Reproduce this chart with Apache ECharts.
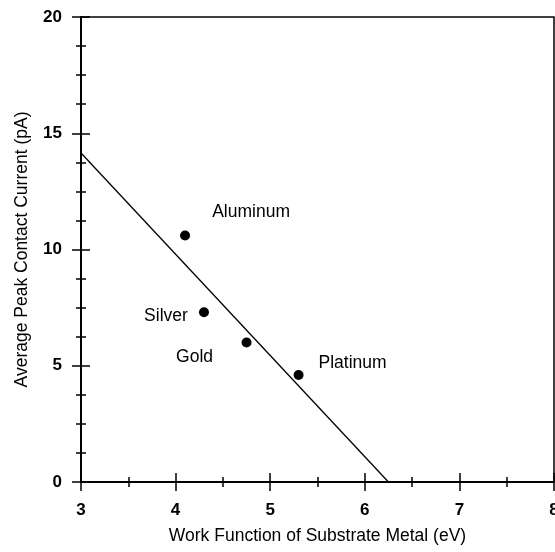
<!DOCTYPE html>
<html>
<head>
<meta charset="utf-8">
<script src="https://cdn.jsdelivr.net/npm/echarts@6/dist/echarts.min.js"></script>
<style>
  html, body { margin: 0; padding: 0; background: #fff; }
  #chart { width: 555px; height: 552px; }
</style>
</head>
<body>
<div id="chart"></div>
<script>
// Measured metals: work function (eV) and average peak contact current (pA)
const metals = ['Aluminum', 'Silver', 'Gold', 'Platinum'];
const workFunction = [4.10, 4.30, 4.75, 5.30];
const peakCurrent = [10.6, 7.3, 6.0, 4.6];

// Linear fit drawn across the range, ending where it reaches zero current
const fitX = [3.0, 6.25];
const fitY = [14.15, 0];

// Axis ranges
const xRange = [3, 8];
const yRange = [0, 20];

// Label placement around each dot (pixels, from the dot centre)
const labelShift = {
  Aluminum: [66, -23],
  Silver: [-38, 4],
  Gold: [-52, 15],
  Platinum: [54, -12]
};

const font = 'Liberation Sans, Arial, Helvetica, sans-serif';
const ink = '#000';

const chart = echarts.init(document.getElementById('chart'), null, { renderer: 'canvas' });

const baseX = {
  type: 'value', min: xRange[0], max: xRange[1], interval: 1,
  splitLine: { show: false }
};
const baseY = {
  type: 'value', min: yRange[0], max: yRange[1], interval: 5,
  splitLine: { show: false }
};

chart.setOption({
  animation: false,
  backgroundColor: '#fff',
  grid: {
    left: 81, right: 1, top: 17, bottom: 70,
    outerBoundsMode: 'none',
    containLabel: false,
    show: true, borderColor: ink, borderWidth: 1.5, backgroundColor: 'transparent'
  },
  xAxis: [
    Object.assign({}, baseX, {
      position: 'bottom',
      name: 'Work Function of Substrate Metal (eV)',
      nameLocation: 'middle', nameGap: 45,
      nameTextStyle: { fontFamily: font, fontSize: 17.5, color: ink },
      axisLine: { show: true, onZero: false, lineStyle: { color: ink, width: 2 } },
      axisTick: { show: true, inside: false, length: 9, lineStyle: { color: ink, width: 1.5 } },
      minorTick: { show: true, splitNumber: 2, length: 5, lineStyle: { color: ink, width: 1.5 } },
      axisLabel: { margin: 20, fontFamily: font, fontSize: 17, fontWeight: 'bold', color: ink }
    }),
    Object.assign({}, baseX, {
      position: 'bottom',
      axisLine: { show: false, onZero: false },
      axisTick: { show: true, inside: true, length: 9, lineStyle: { color: ink, width: 1.5 } },
      minorTick: { show: true, splitNumber: 2, length: 5, lineStyle: { color: ink, width: 1.5 } },
      axisLabel: { show: false }
    })
  ],
  yAxis: [
    Object.assign({}, baseY, {
      position: 'left',
      name: 'Average Peak Contact Current (pA)',
      nameLocation: 'middle', nameGap: 50,
      nameTextStyle: { fontFamily: font, fontSize: 17.5, color: ink },
      axisLine: { show: true, onZero: false, lineStyle: { color: ink, width: 2 } },
      axisTick: { show: true, inside: false, length: 9, lineStyle: { color: ink, width: 1.5 } },
      minorTick: { show: true, splitNumber: 4, length: 5, lineStyle: { color: ink, width: 1.5 } },
      axisLabel: { margin: 19, fontFamily: font, fontSize: 17, fontWeight: 'bold', color: ink }
    }),
    Object.assign({}, baseY, {
      position: 'left',
      axisLine: { show: false, onZero: false },
      axisTick: { show: true, inside: true, length: 9, lineStyle: { color: ink, width: 1.5 } },
      minorTick: { show: true, splitNumber: 4, length: 5, lineStyle: { color: ink, width: 1.5 } },
      axisLabel: { show: false }
    })
  ],
  series: [
    {
      name: 'fit',
      type: 'line',
      xAxisIndex: 0, yAxisIndex: 0,
      data: fitX.map((x, i) => [x, fitY[i]]),
      showSymbol: false,
      lineStyle: { color: ink, width: 1.3 },
      z: 3
    },
    {
      name: 'metals',
      type: 'scatter',
      xAxisIndex: 0, yAxisIndex: 0,
      symbol: 'circle',
      symbolSize: 10,
      itemStyle: { color: ink, opacity: 1 },
      data: metals.map((m, i) => ({
        name: m,
        value: [workFunction[i], peakCurrent[i]],
        label: {
          show: true,
          position: 'inside',
          offset: labelShift[m],
          formatter: '{b}',
          fontFamily: font, fontSize: 17.5, color: ink, opacity: 1
        }
      })),
      z: 4
    }
  ]
});
</script>
</body>
</html>
